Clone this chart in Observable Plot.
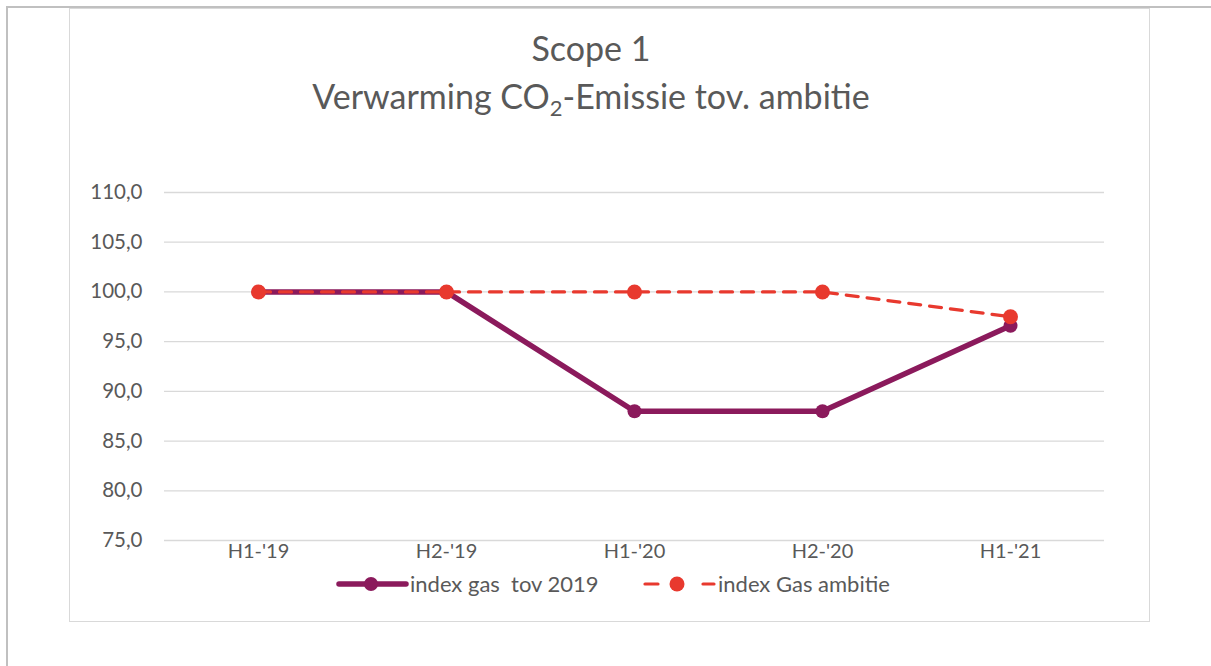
<!DOCTYPE html>
<html>
<head>
<meta charset="utf-8">
<script src="https://cdn.jsdelivr.net/npm/d3@7"></script>
<script src="https://cdn.jsdelivr.net/npm/@observablehq/plot@0.6"></script>
<style>
  html, body { margin: 0; padding: 0; background: #fff; }
  body { font-family: Lato, "Open Sans", sans-serif; color: #595959; }
  #wrap { position: relative; width: 1211px; height: 666px; overflow: hidden; }
  #outer-top { position: absolute; left: 6px; top: 6px; width: 1205px; height: 0; border-top: 2px solid #c0c0c0; }
  #outer-left { position: absolute; left: 6px; top: 6px; width: 0; height: 660px; border-left: 2px solid #c0c0c0; }
  #inner { position: absolute; left: 69px; top: 8px; width: 1079px; height: 612px; border: 1.5px solid #d9d9d9; }
  #chart { position: absolute; left: 0; top: 0; }
  #title { position: absolute; left: 0; top: 24px; width: 1182px; text-align: center; font-size: 34px; line-height: 48px; color: #595959; }
  #title sub { font-size: 22px; vertical-align: -7px; line-height: 0; }
  .leg { position: absolute; top: 570px; display: flex; align-items: center; font-size: 22px; color: #595959; white-space: pre; }
  .leg svg { display: block; }
</style>
</head>
<body>
<div id="wrap">
  <div id="outer-top"></div>
  <div id="outer-left"></div>
  <div id="inner"></div>
  <div id="chart"></div>
  <div id="title">Scope 1<br>Verwarming CO<sub>2</sub>-Emissie tov. ambitie</div>
</div>
<script>
const categories = ["H1-'19", "H2-'19", "H1-'20", "H2-'20", "H1-'21"];
const gasIndex = [100.0, 100.0, 88.0, 88.0, 96.6];
const gasAmbitie = [100.0, 100.0, 100.0, 100.0, 97.5];
const yTicks = [75, 80, 85, 90, 95, 100, 105, 110];
const seriesNames = ["index gas  tov 2019", "index Gas ambitie"];
const seriesColors = ["#8b1a5c", "#e8392e"];

const gasData = categories.map((c, i) => ({cat: c, value: gasIndex[i]}));
const ambData = categories.map((c, i) => ({cat: c, value: gasAmbitie[i]}));

const fmt = d => d.toFixed(1).replace(".", ",");

const plot = Plot.plot({
  width: 1211,
  height: 666,
  marginLeft: 164,
  marginRight: 107,
  marginTop: 192,
  marginBottom: 126,
  style: {fontFamily: "Lato, 'Open Sans', sans-serif", fontSize: "20.5px", color: "#595959", background: "transparent"},
  x: {type: "point", domain: categories, padding: 0.5, label: null, tickSize: 0, tickPadding: 3},
  y: {domain: [75, 110], ticks: yTicks, tickFormat: fmt, label: null, tickSize: 0, tickPadding: 22},
  marks: [
    Plot.ruleY(yTicks, {stroke: "#d9d9d9", strokeWidth: 1.3}),
    Plot.line(gasData, {x: "cat", y: "value", stroke: seriesColors[0], strokeWidth: 5.5, strokeLinejoin: "round", strokeLinecap: "round"}),
    Plot.dot(gasData, {x: "cat", y: "value", fill: seriesColors[0], r: 7}),
    Plot.line(ambData, {x: "cat", y: "value", stroke: seriesColors[1], strokeWidth: 3.2, strokeDasharray: "12,9", strokeLinecap: "round"}),
    Plot.dot(ambData, {x: "cat", y: "value", fill: seriesColors[1], r: 7.5})
  ]
});
plot.querySelectorAll("g[aria-label='x-axis tick label'] text").forEach(t => t.setAttribute("font-size", "20"));
document.getElementById("chart").appendChild(plot);

// legend
const wrap = document.getElementById("wrap");
const legendLeft = [336, 642];
seriesNames.forEach((name, i) => {
  const item = document.createElement("div");
  item.className = "leg";
  item.style.left = legendLeft[i] + "px";
  const c = seriesColors[i];
  const sw = i === 1
    ? `<svg width="76" height="26"><line x1="3" y1="13" x2="16" y2="13" stroke="${c}" stroke-width="3.2" stroke-linecap="round"/><line x1="61" y1="13" x2="72" y2="13" stroke="${c}" stroke-width="3.2" stroke-linecap="round"/><circle cx="35" cy="13" r="7.5" fill="${c}"/></svg>`
    : `<svg width="74" height="26"><line x1="3" y1="13" x2="70" y2="13" stroke="${c}" stroke-width="5.5" stroke-linecap="round"/><circle cx="35" cy="13" r="7" fill="${c}"/></svg>`;
  item.innerHTML = sw + `<span>${name}</span>`;
  wrap.appendChild(item);
});
</script>
</body>
</html>
